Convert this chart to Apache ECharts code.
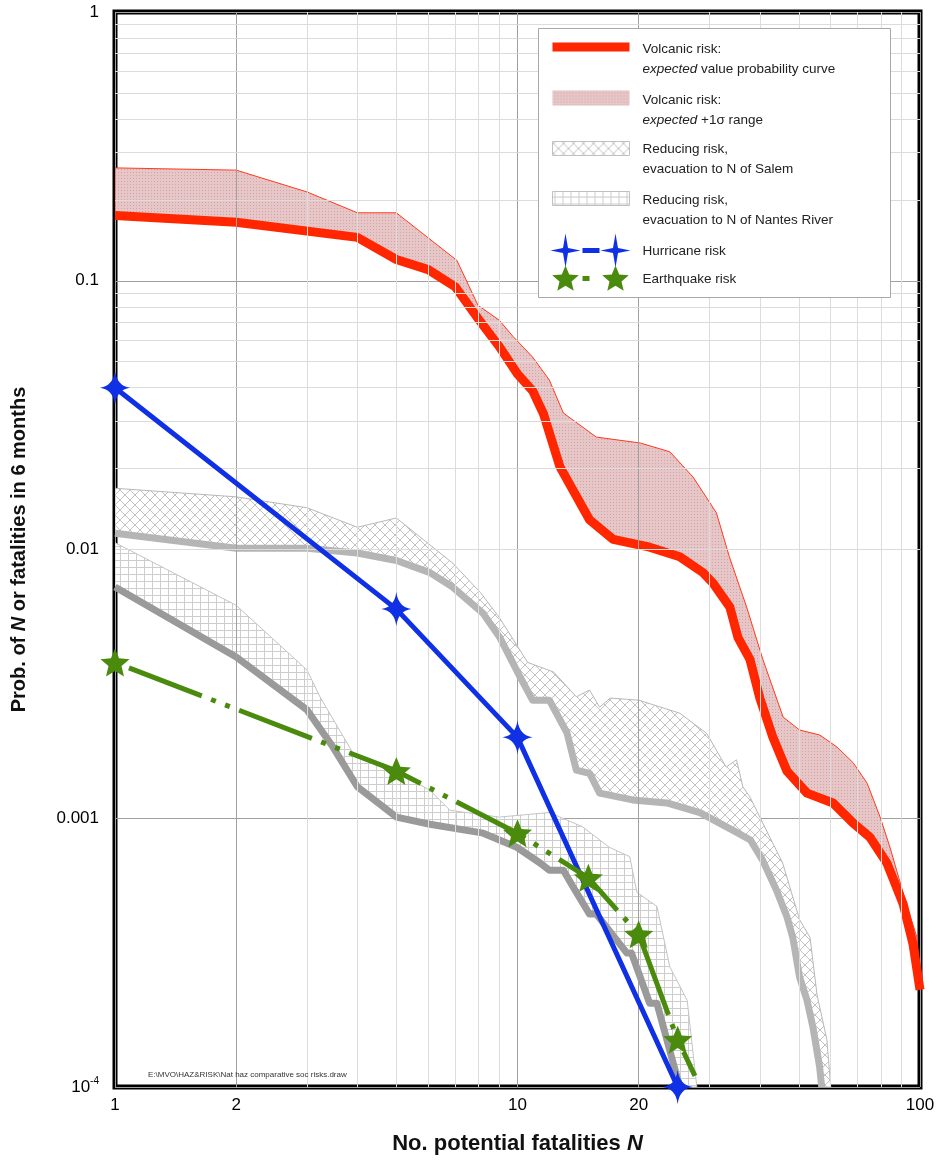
<!DOCTYPE html>
<html>
<head>
<meta charset="utf-8">
<script src="https://cdn.jsdelivr.net/npm/echarts@6/dist/echarts.min.js"></script>
<style>
  html, body { margin: 0; padding: 0; background: #fff; }
  #main { width: 941px; height: 1170px; }
</style>
</head>
<body>
<div id="main"></div>
<script>
// values: N (fatalities) and probability in 6 months
var volcN = [1, 2, 4, 5, 6, 7, 8, 9, 10, 10.9, 11.6, 12.75, 15.1, 17.3, 21.3, 25.3, 28.9, 30.6, 33.7, 35.3, 37.8, 40, 43.1, 46.7, 52.4, 60.8, 68.2, 75.1, 82.8, 90.8, 96.1, 100]
var volcP = [0.175, 0.165, 0.145, 0.12, 0.11, 0.095, 0.072, 0.057, 0.045, 0.039, 0.032, 0.0203, 0.0129, 0.0109, 0.0102, 0.0094, 0.0082, 0.0075, 0.0061, 0.0047, 0.0039, 0.0028, 0.002, 0.0015, 0.00124, 0.00114, 0.00096, 0.00085, 0.00068, 0.00048, 0.00034, 0.00023]

var volcHiN = [1, 2, 3, 4, 5, 7.07, 7.98, 9, 9.75, 10.9, 12, 13, 15.7, 20.2, 23.9, 27.3, 31.2, 33.6, 37.1, 40.7, 45.7, 50.2, 56.4, 62.2, 68.2, 73.9, 79.6, 84.2, 92.5, 98.3, 100]
var volcHiP = [0.263, 0.258, 0.214, 0.179, 0.179, 0.119, 0.081, 0.0714, 0.062, 0.052, 0.0427, 0.0322, 0.0262, 0.0249, 0.0231, 0.0186, 0.0137, 0.0094, 0.0061, 0.0039, 0.00238, 0.00213, 0.00204, 0.00184, 0.00161, 0.00135, 0.00101, 0.00078, 0.00048, 0.00036, 0.00025]

var salemN = [1, 2, 3, 4, 5, 6.06, 6.9, 8.2, 9.04, 10.1, 10.9, 12, 13.27, 14, 15.1, 16, 19.3, 23.5, 28.4, 34.4, 37.9, 40.6, 44, 46.7, 48.3, 50.2, 52.4, 54.2, 56.3, 57]
var salemP = [0.0115, 0.0101, 0.0101, 0.0097, 0.0091, 0.0082, 0.00725, 0.0058, 0.0047, 0.0034, 0.00275, 0.00275, 0.00208, 0.00151, 0.00147, 0.00124, 0.00117, 0.00114, 0.00105, 0.0009, 0.00083, 0.0007, 0.00054, 0.00043, 0.00036, 0.000257, 0.00021, 0.000167, 0.000119, 0.0001]

var salemHiN = [1, 2, 3, 4, 5, 6.9, 8.1, 9, 10.6, 12.3, 14, 15.1, 16, 17, 20, 25.3, 29.5, 33, 35, 36.3, 37.8, 40, 45.6, 50.2, 53.3, 55.5, 58.7, 60]
var salemHiP = [0.0169, 0.0157, 0.0143, 0.0121, 0.0131, 0.0089, 0.0069, 0.0056, 0.0038, 0.0035, 0.00283, 0.003, 0.00259, 0.0028, 0.00275, 0.00246, 0.00207, 0.00155, 0.00165, 0.00131, 0.0012, 0.00101, 0.00068, 0.00042, 0.00036, 0.00022, 0.00015, 0.0001]

var nantesN = [1, 2, 3, 3.48, 4, 5, 6.06, 8.22, 9.96, 11.4, 12, 13, 13.7, 15.1, 15.7, 18.7, 19.2, 21.3, 22.2, 24.9, 25.3]
var nantesP = [0.00725, 0.00398, 0.00253, 0.00184, 0.00131, 0.00101, 0.00095, 0.00088, 0.00078, 0.00068, 0.00064, 0.00064, 0.00056, 0.00044, 0.00044, 0.000315, 0.000315, 0.000205, 0.000205, 0.000109, 0.0001]

var nantesHiN = [1, 2, 3, 3.23, 3.9, 5, 6.06, 6.8, 9, 12, 14.5, 16.9, 19, 19.8, 22.2, 23.9, 26.4, 27.9]
var nantesHiP = [0.0106, 0.0062, 0.00356, 0.00283, 0.00175, 0.0015, 0.00127, 0.00107, 0.00101, 0.00105, 0.00093, 0.00078, 0.00072, 0.00053, 0.00047, 0.00028, 0.00021, 0.0001]

var hurrN = [1, 5, 10, 25]
var hurrP = [0.04, 0.006, 0.002, 0.0001]

var quakeN = [1, 5, 10, 15, 20, 25, 27.6]
var quakeP = [0.0038, 0.0015, 0.00088, 0.0006, 0.00037, 0.00015, 0.00011]

// axis labels and grid positions
var xLabels = [1, 2, 10, 20, 100]
var xMinor = [3, 4, 5, 6, 7, 8, 9, 30, 40, 50, 60, 70, 80, 90]
var xMid = [2, 20]
var yMant = [2, 3, 4, 5, 6, 7, 8, 9]
var yDecades = [0.0001, 0.001, 0.01, 0.1]

var FONT = 'Liberation Sans, Arial, Helvetica, sans-serif'
var STAR4 = 'path://M0,-10 Q1.2,-1.2 10,0 Q1.2,1.2 0,10 Q-1.2,1.2 -10,0 Q-1.2,-1.2 0,-10 Z'
var STAR5 = 'path://M0,-10 L2.65,-3.64 L9.51,-3.09 L4.28,1.39 L5.88,8.09 L0,4.5 L-5.88,8.09 L-4.28,1.39 L-9.51,-3.09 L-2.65,-3.64 Z'
// legend glyph outlines
var STAR4_PTS = [[0, -17], [2.5, -2.5], [15, 0], [2.5, 2.5], [0, 17], [-2.5, 2.5], [-15, 0], [-2.5, -2.5]]
var STAR5_PTS = [[0, -14], [3.7, -5.1], [13.3, -4.3], [6, 1.9], [8.2, 11.3], [0, 6.3], [-8.2, 11.3], [-6, 1.9], [-13.3, -4.3], [-3.7, -5.1]]

function zip(a, b) {
  return a.map(function (v, i) { return [v, b[i]] })
}

function pattern(w, h, draw) {
  var c = document.createElement('canvas')
  c.width = w
  c.height = h
  draw(c.getContext('2d'))
  return { image: c, repeat: 'repeat' }
}

// fills
var pinkFill = pattern(3, 3, function (ctx) {
  ctx.fillStyle = '#e6c6c7'
  ctx.fillRect(0, 0, 3, 3)
  ctx.fillStyle = '#d3a3a6'
  ctx.fillRect(1, 1, 1, 1)
})
var crossFill = pattern(10, 10, function (ctx) {
  ctx.fillStyle = '#fff'
  ctx.fillRect(0, 0, 10, 10)
  ctx.strokeStyle = '#c2c2c2'
  ctx.lineWidth = 1
  ctx.beginPath()
  ctx.moveTo(0, 0); ctx.lineTo(10, 10)
  ctx.moveTo(10, 0); ctx.lineTo(0, 10)
  ctx.stroke()
})
var gridFill = pattern(8, 7, function (ctx) {
  ctx.fillStyle = '#fff'
  ctx.fillRect(0, 0, 8, 7)
  ctx.fillStyle = '#cdcdcd'
  ctx.fillRect(0, 0, 8, 1)
  ctx.fillRect(0, 0, 1, 7)
})

function band(upper, lower, fill, stroke, z) {
  return {
    type: 'custom',
    z: z,
    silent: true,
    clip: true,
    data: [[1, 0.01]],
    renderItem: function (params, api) {
      var pts = upper.map(function (p) { return api.coord(p) })
        .concat(lower.slice().reverse().map(function (p) { return api.coord(p) }))
      return {
        type: 'polygon',
        shape: { points: pts },
        style: { fill: fill, stroke: stroke, lineWidth: 1 }
      }
    }
  }
}

var LZ = 100
function glyph(pts, cx, cy, color) {
  return {
    type: 'polygon', x: cx, y: cy, z: LZ + 2,
    shape: { points: pts },
    style: { fill: color }
  }
}

// gridlines between the decades
var gridLines = []
xMinor.forEach(function (v) {
  gridLines.push({ xAxis: v, lineStyle: { color: '#dcdcdc', width: 1, type: 'solid' } })
})
xMid.forEach(function (v) {
  gridLines.push({ xAxis: v, lineStyle: { color: '#a0a0a0', width: 1, type: 'solid' } })
})
yDecades.forEach(function (d) {
  yMant.forEach(function (m) {
    gridLines.push({ yAxis: m * d, lineStyle: { color: '#dcdcdc', width: 1, type: 'solid' } })
  })
})

var quakeData = zip(quakeN, quakeP)
quakeData[quakeData.length - 1] = { value: quakeData[quakeData.length - 1], symbol: 'none' }

var chart = echarts.init(document.getElementById('main'))

var txt = { fontSize: 13.5, lineHeight: 20, fontFamily: FONT, fill: '#222' }
var ital = { i: { fontStyle: 'italic', fontSize: 13.5, lineHeight: 20, fontFamily: FONT, fill: '#222' } }

function label(x, y, text, rich) {
  var s = Object.assign({ text: text }, txt)
  if (rich) s.rich = ital
  return { type: 'text', x: x, y: y, z: LZ + 1, style: s }
}

var option = {
  animation: false,
  backgroundColor: '#fff',
  textStyle: { fontFamily: FONT },
  grid: {
    left: 115, right: 21, top: 12, bottom: 83,
    show: true, borderColor: '#000', borderWidth: 5
  },
  xAxis: {
    type: 'log',
    logBase: 10,
    min: 1,
    max: 100,
    axisLine: { show: false },
    axisTick: { show: false },
    axisLabel: {
      customValues: xLabels,
      fontSize: 17,
      color: '#000',
      margin: 10,
      formatter: function (v) { return String(Number(Number(v).toPrecision(3))) }
    },
    splitLine: { show: true, lineStyle: { color: '#a0a0a0', width: 1 } },
    name: 'No. potential fatalities {i|N}',
    nameLocation: 'middle',
    nameGap: 46,
    nameTextStyle: {
      fontSize: 22, fontWeight: 'bold', color: '#111', fontFamily: FONT,
      rich: { i: { fontSize: 22, fontWeight: 'bold', fontStyle: 'italic', color: '#111', fontFamily: FONT } }
    }
  },
  yAxis: {
    type: 'log',
    logBase: 10,
    min: 0.0001,
    max: 1,
    axisLine: { show: false },
    axisTick: { show: false },
    axisLabel: {
      fontSize: 17,
      color: '#000',
      margin: 16,
      formatter: function (v) {
        var r = Number(Number(v).toPrecision(2))
        if (r < 0.0005) return '{b|10}{s|-4}'
        return String(r)
      },
      rich: {
        b: { fontSize: 17, color: '#000', fontFamily: FONT, lineHeight: 22 },
        s: { fontSize: 10, color: '#000', fontFamily: FONT, verticalAlign: 'top', lineHeight: 12 }
      }
    },
    splitLine: { show: true, lineStyle: { color: '#a0a0a0', width: 1 } },
    name: 'Prob. of {i|N} or fatalities in 6 months',
    nameLocation: 'middle',
    nameGap: 86,
    nameRotate: 90,
    nameTextStyle: {
      fontSize: 20, fontWeight: 'bold', color: '#111', fontFamily: FONT,
      rich: { i: { fontSize: 20, fontWeight: 'bold', fontStyle: 'italic', color: '#111', fontFamily: FONT } }
    }
  },
  series: [
    {
      // carrier for the minor gridlines
      type: 'line',
      z: 1,
      silent: true,
      data: [[1, 1]],
      symbol: 'none',
      lineStyle: { opacity: 0 },
      markLine: {
        silent: true,
        symbol: ['none', 'none'],
        label: { show: false },
        data: gridLines
      }
    },
    band(zip(nantesHiN, nantesHiP), zip(nantesN, nantesP), gridFill, '#c4c4c4', 2),
    band(zip(salemHiN, salemHiP), zip(salemN, salemP), crossFill, '#b8b8b8', 2),
    band(zip(volcHiN, volcHiP), zip(volcN, volcP), pinkFill, '#ff3a1e', 2),
    {
      name: 'Nantes River', type: 'line', z: 3, silent: true,
      data: zip(nantesN, nantesP), symbol: 'none',
      lineStyle: { color: '#9a9a9a', width: 7, join: 'round' }
    },
    {
      name: 'Salem', type: 'line', z: 3, silent: true,
      data: zip(salemN, salemP), symbol: 'none',
      lineStyle: { color: '#b5b5b5', width: 7, join: 'round' }
    },
    {
      name: 'Volcanic risk', type: 'line', z: 4, silent: true,
      data: zip(volcN, volcP), symbol: 'none',
      lineStyle: { color: '#ff2600', width: 9, join: 'round' }
    },
    {
      name: 'Hurricane risk', type: 'line', z: 5, silent: true,
      data: zip(hurrN, hurrP),
      symbol: STAR4, symbolSize: [30, 34], showSymbol: true,
      itemStyle: { color: '#1030e6' },
      lineStyle: { color: '#1030e6', width: 5 }
    },
    {
      name: 'Earthquake risk', type: 'line', z: 6, silent: true,
      data: quakeData,
      symbol: STAR5, symbolSize: [29, 28], showSymbol: true,
      itemStyle: { color: '#4a8a0c' },
      lineStyle: { color: '#4a8a0c', width: 5, type: [78, 10, 5, 10, 5, 10], dashOffset: 103 }
    }
  ],
  graphic: [
    {
      type: 'text', left: 148, top: 1071, z: 10, silent: true,
      style: { text: 'E:\\MVO\\HAZ&RISK\\Nat haz comparative soc risks.draw', fontSize: 8, fontFamily: FONT, fill: '#333' }
    },
    {
      type: 'group', left: 538, top: 28, z: LZ, silent: true,
      children: [
        { type: 'rect', z: LZ, shape: { x: 0, y: 0, width: 352, height: 269 }, style: { fill: '#fff', stroke: '#a8a8a8', lineWidth: 1 } },
        { type: 'rect', z: LZ + 1, shape: { x: 14, y: 14, width: 77, height: 9 }, style: { fill: '#ff2600' } },
        { type: 'rect', z: LZ + 1, shape: { x: 14, y: 62, width: 77, height: 15 }, style: { fill: pinkFill } },
        { type: 'rect', z: LZ + 1, shape: { x: 14, y: 113, width: 77, height: 14 }, style: { fill: crossFill, stroke: '#c0c0c0', lineWidth: 1 } },
        { type: 'rect', z: LZ + 1, shape: { x: 14, y: 163, width: 77, height: 14 }, style: { fill: gridFill, stroke: '#c0c0c0', lineWidth: 1 } },
        { type: 'line', z: LZ + 1, shape: { x1: 44, y1: 222, x2: 61, y2: 222 }, style: { stroke: '#1030e6', lineWidth: 5 } },
        glyph(STAR4_PTS, 27, 222, '#1030e6'),
        glyph(STAR4_PTS, 77, 222, '#1030e6'),
        { type: 'line', z: LZ + 1, shape: { x1: 44, y1: 250, x2: 51, y2: 250 }, style: { stroke: '#4a8a0c', lineWidth: 5 } },
        glyph(STAR5_PTS, 27, 251, '#4a8a0c'),
        glyph(STAR5_PTS, 77, 251, '#4a8a0c'),
        label(104, 11, 'Volcanic risk:\n{i|expected} value probability curve', true),
        label(104, 62, 'Volcanic risk:\n{i|expected} +1σ range', true),
        label(104, 111, 'Reducing risk,\nevacuation to N of Salem'),
        label(104, 162, 'Reducing risk,\nevacuation to N of Nantes River'),
        label(104, 213, 'Hurricane risk'),
        label(104, 241, 'Earthquake risk')
      ]
    }
  ]
}

chart.setOption(option)
</script>
</body>
</html>
